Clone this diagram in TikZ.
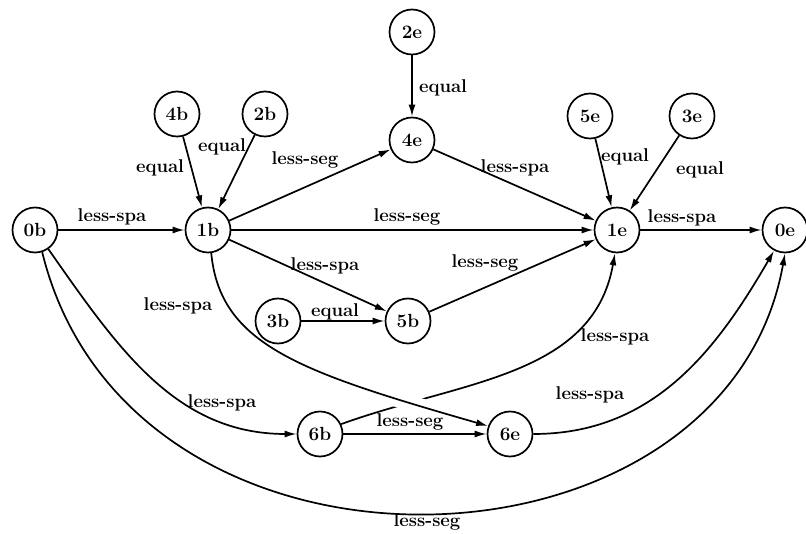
\documentclass[tikz,border=0pt]{standalone}
\usetikzlibrary{arrows.meta}
\begin{document}
\begin{tikzpicture}[x=1pt,y=1pt,
  st/.style={circle,draw,line width=1.7pt,minimum size=45pt,inner sep=0pt,font=\bfseries\fontsize{19}{22}\selectfont},
  lbl/.style={inner sep=0pt,font=\bfseries\fontsize{18.5}{21}\selectfont},
  ed/.style={line width=1.7pt,-{Latex[length=12pt,width=7pt]}}]
\useasboundingbox (0,-534) rectangle (806,0);
% nodes
\node[st] (0b) at (35,-230) {0b};
\node[st] (1b) at (208,-230) {1b};
\node[st] (4b) at (177,-114) {4b};
\node[st] (2b) at (265,-114) {2b};
\node[st] (2e) at (412,-32) {2e};
\node[st] (4e) at (412,-140) {4e};
\node[st] (5e) at (590,-116) {5e};
\node[st] (3e) at (692,-116) {3e};
\node[st] (1e) at (617,-230) {1e};
\node[st] (0e) at (785,-230) {0e};
\node[st] (3b) at (278,-321) {3b};
\node[st] (5b) at (408,-321) {5b};
\node[st] (6b) at (320,-434) {6b};
\node[st] (6e) at (510,-434) {6e};
% straight edges
\draw[ed] (0b) -- (1b);
\draw[ed] (4b) -- (1b);
\draw[ed] (2b) -- (1b);
\draw[ed] (1b) -- (4e);
\draw[ed] (2e) -- (4e);
\draw[ed] (1b) -- (1e);
\draw[ed] (4e) -- (1e);
\draw[ed] (5e) -- (1e);
\draw[ed] (3e) -- (1e);
\draw[ed] (1e) -- (0e);
\draw[ed] (1b) -- (5b);
\draw[ed] (3b) -- (5b);
\draw[ed] (5b) -- (1e);
\draw[ed] (6b) -- (6e);
% curved edges
\draw[ed] (0b.-55) to[out=-55,in=180] (6b.west);
\draw[ed] (0b.-72) .. controls (130,-610) and (725,-590) .. (0e.-90);
\draw[ed] (6e.east) to[out=0,in=-120] (0e.-118);
\draw[ed] (6b.25) to[out=20,in=-100] (1e.-95);
% gap where 1b->6e crosses 6b->1e
\begin{scope}
  \clip (370,-425) rectangle (470,-375);
  \draw[white,line width=16pt] (1b.-82) .. controls (220,-345) and (300,-372) .. (6e.160);
\end{scope}
\draw[ed] (1b.-82) .. controls (220,-345) and (300,-372) .. (6e.160);
% labels
\node[lbl] (l01) at (112,-217) {less-spa};
\node[lbl] (l41) at (160,-168) {equal};
\node[lbl] (l21) at (222,-147) {equal};
\node[lbl] (l1b4e) at (305,-160) {less-seg};
\node[lbl] (l2e) at (443,-88) {equal};
\node[lbl] (l1b1e) at (407,-217) {less-seg};
\node[lbl] (l4e1e) at (515,-168) {less-spa};
\node[lbl] (l5e) at (625,-157) {equal};
\node[lbl] (l3e) at (700,-170) {equal};
\node[lbl] (l1e0e) at (682,-218) {less-spa};
\node[lbl] (l1b5b) at (325,-266) {less-spa};
\node[lbl] (l3b) at (335,-312) {equal};
\node[lbl] (l5b1e) at (485,-263) {less-seg};
\node[lbl] (l1b6e) at (178,-306) {less-spa};
\node[lbl] (l0b6b) at (222,-403) {less-spa};
\node[lbl] (l6b6e) at (410,-422) {less-seg};
\node[lbl] (l6b1e) at (615,-337) {less-spa};
\node[lbl] (l6e0e) at (590,-395) {less-spa};
\node[lbl] (l0b0e) at (427,-522) {less-seg};
\end{tikzpicture}
\end{document}
